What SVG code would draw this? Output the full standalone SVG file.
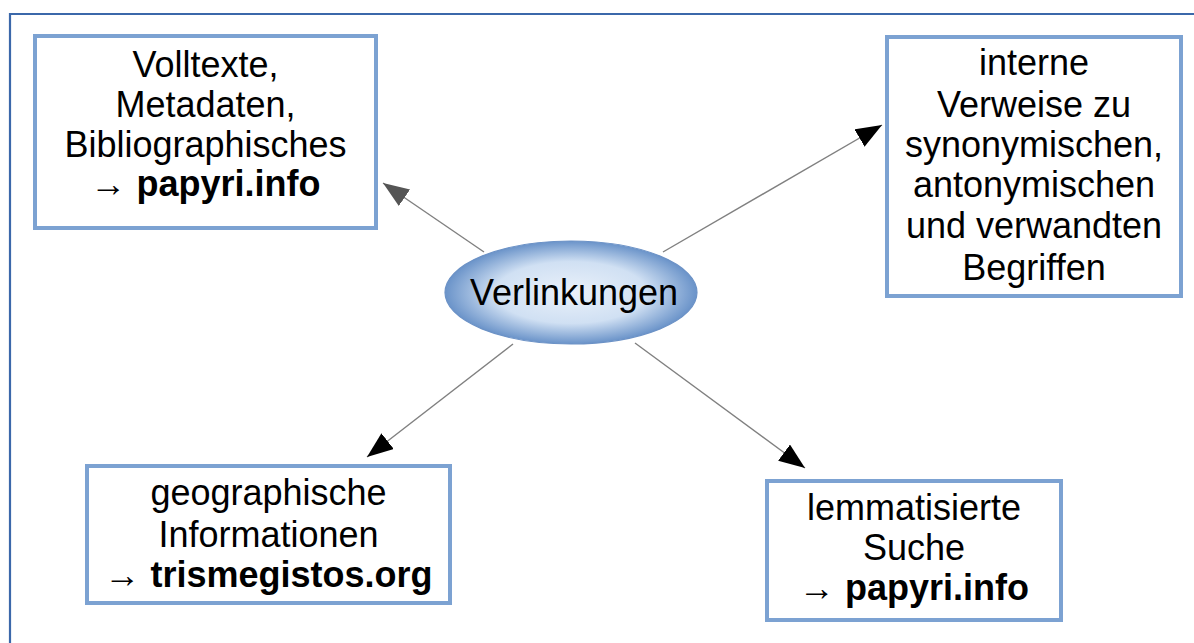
<svg xmlns="http://www.w3.org/2000/svg" width="1194" height="643" viewBox="0 0 1194 643">
<style>
.box{fill:#ffffff;stroke:#7ca2d2;stroke-width:4}
.t{font-family:"Liberation Sans",Arial,sans-serif;font-size:36px;fill:#000;text-anchor:middle}
.b{font-weight:bold}
.c{stroke:#808080;stroke-width:1.4;fill:none}
</style>
<defs>
<radialGradient id="eg" cx="50%" cy="50%" r="50%">
<stop offset="0" stop-color="#eaf1fa"/>
<stop offset="0.6" stop-color="#d0e0f3"/>
<stop offset="1" stop-color="#6a93c9"/>
</radialGradient>
<marker id="ah" markerUnits="userSpaceOnUse" markerWidth="28" markerHeight="22" refX="26" refY="10" orient="auto">
<path d="M0,0 L26,10 L0,20 z" fill="#000"/>
</marker>
<marker id="ahg" markerUnits="userSpaceOnUse" markerWidth="28" markerHeight="22" refX="26" refY="10" orient="auto">
<path d="M0,0 L26,10 L0,20 z" fill="#555"/>
</marker>
</defs>
<rect width="1194" height="643" fill="#fff"/>
<path d="M10,643 V14 H1194" fill="none" stroke="#3b68aa" stroke-width="2.2"/>
<g id="connectors">
<line class="c" x1="484" y1="252" x2="383" y2="183" marker-end="url(#ahg)"/>
<line class="c" x1="663" y1="252" x2="882" y2="125" marker-end="url(#ah)"/>
<line class="c" x1="513" y1="344" x2="367" y2="457" marker-end="url(#ah)"/>
<line class="c" x1="635" y1="343" x2="805" y2="468" marker-end="url(#ah)"/>
</g>
<g id="center">
<ellipse cx="571" cy="292.5" rx="126" ry="51.5" fill="url(#eg)" stroke="#6c92c6" stroke-width="1.2"/>
<text class="t" x="574" y="305">Verlinkungen</text>
</g>
<g id="box1">
<rect class="box" x="35" y="36" width="341" height="192"/>
<text class="t" x="205.5" y="77">Volltexte,</text>
<text class="t" x="205.5" y="117">Metadaten,</text>
<text class="t" x="205.5" y="157">Bibliographisches</text>
<text class="t" x="205.5" y="196">→ <tspan class="b">papyri.info</tspan></text>
</g>
<g id="box2">
<rect class="box" x="887" y="37" width="294" height="259"/>
<text class="t" x="1034" y="75">interne</text>
<text class="t" x="1034" y="117">Verweise zu</text>
<text class="t" x="1034" y="157">synonymischen,</text>
<text class="t" x="1034" y="197">antonymischen</text>
<text class="t" x="1034" y="238">und verwandten</text>
<text class="t" x="1034" y="280">Begriffen</text>
</g>
<g id="box3">
<rect class="box" x="87" y="466" width="363" height="137"/>
<text class="t" x="268.5" y="505">geographische</text>
<text class="t" x="268.5" y="547">Informationen</text>
<text class="t" x="268.5" y="587">→ <tspan class="b">trismegistos.org</tspan></text>
</g>
<g id="box4">
<rect class="box" x="767" y="481" width="294" height="139"/>
<text class="t" x="914" y="520">lemmatisierte</text>
<text class="t" x="914" y="560">Suche</text>
<text class="t" x="914" y="600">→ <tspan class="b">papyri.info</tspan></text>
</g>
</svg>
